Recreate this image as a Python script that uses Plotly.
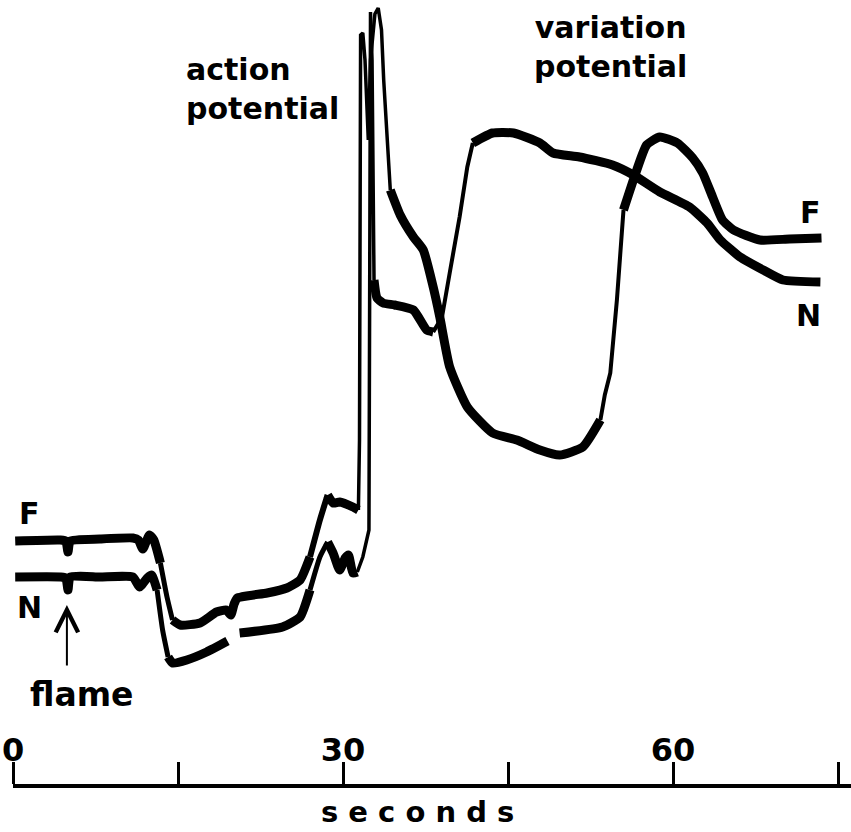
import plotly.graph_objects as go

# ---------------- data ----------------
# time in seconds, potential in arbitrary units
F_t = [0.2, 4.3, 4.8, 5.0, 5.2, 7.9, 10.9, 11.4, 11.8, 12.4, 12.8, 13.4, 14.0, 14.5, 15.2,
       17.0, 18.5, 19.4, 19.8, 20.1, 20.4, 23.1, 24.9, 26.1, 27.0, 27.9, 28.6, 29.1, 29.7,
       30.9, 31.4, 31.5, 31.6, 31.8, 32.0, 32.3, 32.5, 32.9, 33.2, 33.5, 33.7, 34.0, 34.3,
       35.2, 36.4, 37.3, 38.2, 38.8, 39.7, 41.3, 43.6, 45.8, 47.9, 49.7, 51.8, 53.4, 53.8,
       54.3, 54.9, 55.5, 56.4, 57.6, 58.8, 60.4, 61.8, 62.7, 63.6, 64.5, 65.5, 67.9, 70.6, 73.5]
F_v = [24.5, 24.6, 24.5, 23.4, 24.5, 24.7, 24.8, 24.6, 23.7, 25.1, 24.6, 22.3, 18.9, 16.6, 16.1,
       16.3, 17.4, 17.6, 17.1, 18.2, 18.8, 19.3, 19.8, 20.6, 22.9, 26.6, 29.1, 28.3, 28.4,
       27.9, 27.6, 34.6, 75.1, 75.3, 72.6, 64.6, 72.6, 77.2, 77.8, 75.6, 70.6, 65.6, 59.6,
       57.1, 54.9, 53.6, 49.9, 46.9, 41.9, 37.9, 35.3, 34.6, 33.6, 33.1, 33.9, 36.6, 39.1,
       41.3, 48.6, 57.6, 60.6, 64.1, 64.9, 64.3, 62.8, 61.3, 58.9, 56.6, 55.6, 54.6, 54.7, 54.8]

N_t = [0.2, 4.3, 4.8, 5.0, 5.2, 7.9, 10.9, 11.5, 12.2, 12.6, 13.1, 13.6, 14.1, 14.5, 15.8,
       17.6, 19.5, 20.0, 20.6, 24.5, 26.1, 27.0, 27.9, 28.6, 29.1, 29.7, 30.2, 30.5, 30.9,
       31.3, 31.8, 32.36, 32.45, 32.5, 32.64, 32.73, 32.82, 33.09, 33.64, 34.7, 36.4, 37.6,
       38.2, 39.0, 39.7, 40.6, 41.3, 41.8, 43.6, 45.5, 47.9, 49.1, 51.5, 54.5, 56.4, 58.8,
       61.5, 63.1, 64.3, 66.1, 68.2, 70.0, 73.4]
N_v = [20.9, 20.9, 20.8, 19.6, 20.9, 20.9, 20.9, 19.9, 20.8, 21.1, 19.6, 15.6, 12.9, 12.3, 12.6,
       13.4, 14.5, None, 15.3, 15.9, 16.9, 19.6, 22.9, 24.4, 23.3, 21.6, 22.8, 23.1, 21.3,
       21.4, 22.9, 25.6, 48.6, 77.4, 72.6, 58.6, 50.6, 48.8, 48.3, 48.1, 47.6, 45.6,
       45.4, 46.9, 51.3, 56.9, 61.9, 64.3, 65.3, 65.3, 64.3, 63.3, 62.9, 62.1, 61.1, 59.4,
       57.9, 56.3, 54.6, 52.9, 51.6, 50.6, 50.4]

tick_vals = [0, 15, 30, 45, 60, 75]
tick_text = ["0", "", "30", "", "60", ""]

# ---------------- style ----------------
THICK = 9
F_fast = [(13.2, 14.6, 5), (27.0, 28.6, 6), (31.4, 34.3, 3.5), (53.5, 55.6, 4)]
N_fast = [(13.0, 14.2, 5), (27.0, 28.6, 5), (31.3, 32.82, 3.5), (38.2, 41.8, 4)]
FONT = "DejaVu Sans"
W, H = 851, 832
PLOT_H = 786


def width_at(tm, fast):
    for a, b, w in fast:
        if a <= tm < b:
            return w
    return THICK


def build(t, v, fast):
    traces = []
    cur_x, cur_y, cur_w = [], [], None
    for i in range(len(t) - 1):
        if v[i] is None or v[i + 1] is None:
            if cur_x:
                traces.append((cur_x, cur_y, cur_w))
            cur_x, cur_y, cur_w = [], [], None
            continue
        w = width_at((t[i] + t[i + 1]) / 2, fast)
        if cur_w is None:
            cur_x, cur_y, cur_w = [t[i], t[i + 1]], [v[i], v[i + 1]], w
        elif w == cur_w:
            cur_x.append(t[i + 1]); cur_y.append(v[i + 1])
        else:
            traces.append((cur_x, cur_y, cur_w))
            cur_x, cur_y, cur_w = [t[i], t[i + 1]], [v[i], v[i + 1]], w
    if cur_x:
        traces.append((cur_x, cur_y, cur_w))
    return traces


fig = go.Figure()
for t, v, fast in [(F_t, F_v, F_fast), (N_t, N_v, N_fast)]:
    for xs, ys, w in build(t, v, fast):
        smooth = w >= 5
        fig.add_trace(go.Scatter(
            x=xs, y=ys, mode="lines",
            line=dict(color="black", width=w,
                      shape="spline" if smooth else "linear",
                      **({"smoothing": 0.5} if smooth else {})),
            showlegend=False, hoverinfo="skip"))


def px(xp):
    return xp / W


def py(yp):
    return (PLOT_H - yp) / PLOT_H


ann_font = dict(family=FONT, size=30, color="black", weight="bold")
annotations = [
    dict(x=px(184), y=py(50), xref="paper", yref="paper", text="action<br>potential",
         showarrow=False, xanchor="left", yanchor="top", align="left", font=ann_font),
    dict(x=px(610), y=py(8), xref="paper", yref="paper", text="variation<br>potential",
         showarrow=False, xanchor="center", yanchor="top", align="center", font=ann_font),
    dict(x=1.5, y=27.3, xref="x", yref="y", text="F", showarrow=False, font=ann_font),
    dict(x=1.5, y=17.9, xref="x", yref="y", text="N", showarrow=False, font=ann_font),
    dict(x=72.5, y=57.4, xref="x", yref="y", text="F", showarrow=False, font=ann_font),
    dict(x=72.3, y=47.1, xref="x", yref="y", text="N", showarrow=False, font=ann_font),
    dict(x=6.3, y=9.2, xref="x", yref="y", text="flame", showarrow=False,
         font=dict(family=FONT, size=33, color="black", weight="bold")),
    dict(x=4.9, y=18.1, xref="x", yref="y", text="", showarrow=True, ax=0, ay=62,
         arrowhead=5, arrowsize=2.2, arrowwidth=2, arrowcolor="black", standoff=0),
    dict(x=px(417), y=py(812), xref="paper", yref="paper", text="s e c o n d s",
         showarrow=False, xanchor="center", yanchor="middle",
         font=dict(family=FONT, size=29, color="black", weight="bold")),
]

fig.update_layout(
    width=W, height=H,
    margin=dict(l=0, r=0, t=0, b=H - PLOT_H),
    paper_bgcolor="white", plot_bgcolor="white",
    annotations=annotations,
    xaxis=dict(domain=[13 / W, 1], range=[0, (W - 13) / 11], anchor="free", position=0,
               side="top", automargin=False, showgrid=False, zeroline=False,
               showline=True, linewidth=4,
               linecolor="black", ticks="outside", ticklen=22, tickwidth=3, tickcolor="black",
               tickvals=tick_vals, ticktext=tick_text, ticklabelstandoff=-12,
               tickfont=dict(family=FONT, size=32, color="black", weight="bold")),
    yaxis=dict(range=[0, 78.6], visible=False, automargin=False,
               showgrid=False, zeroline=False),
)

fig.write_html("out.html")
